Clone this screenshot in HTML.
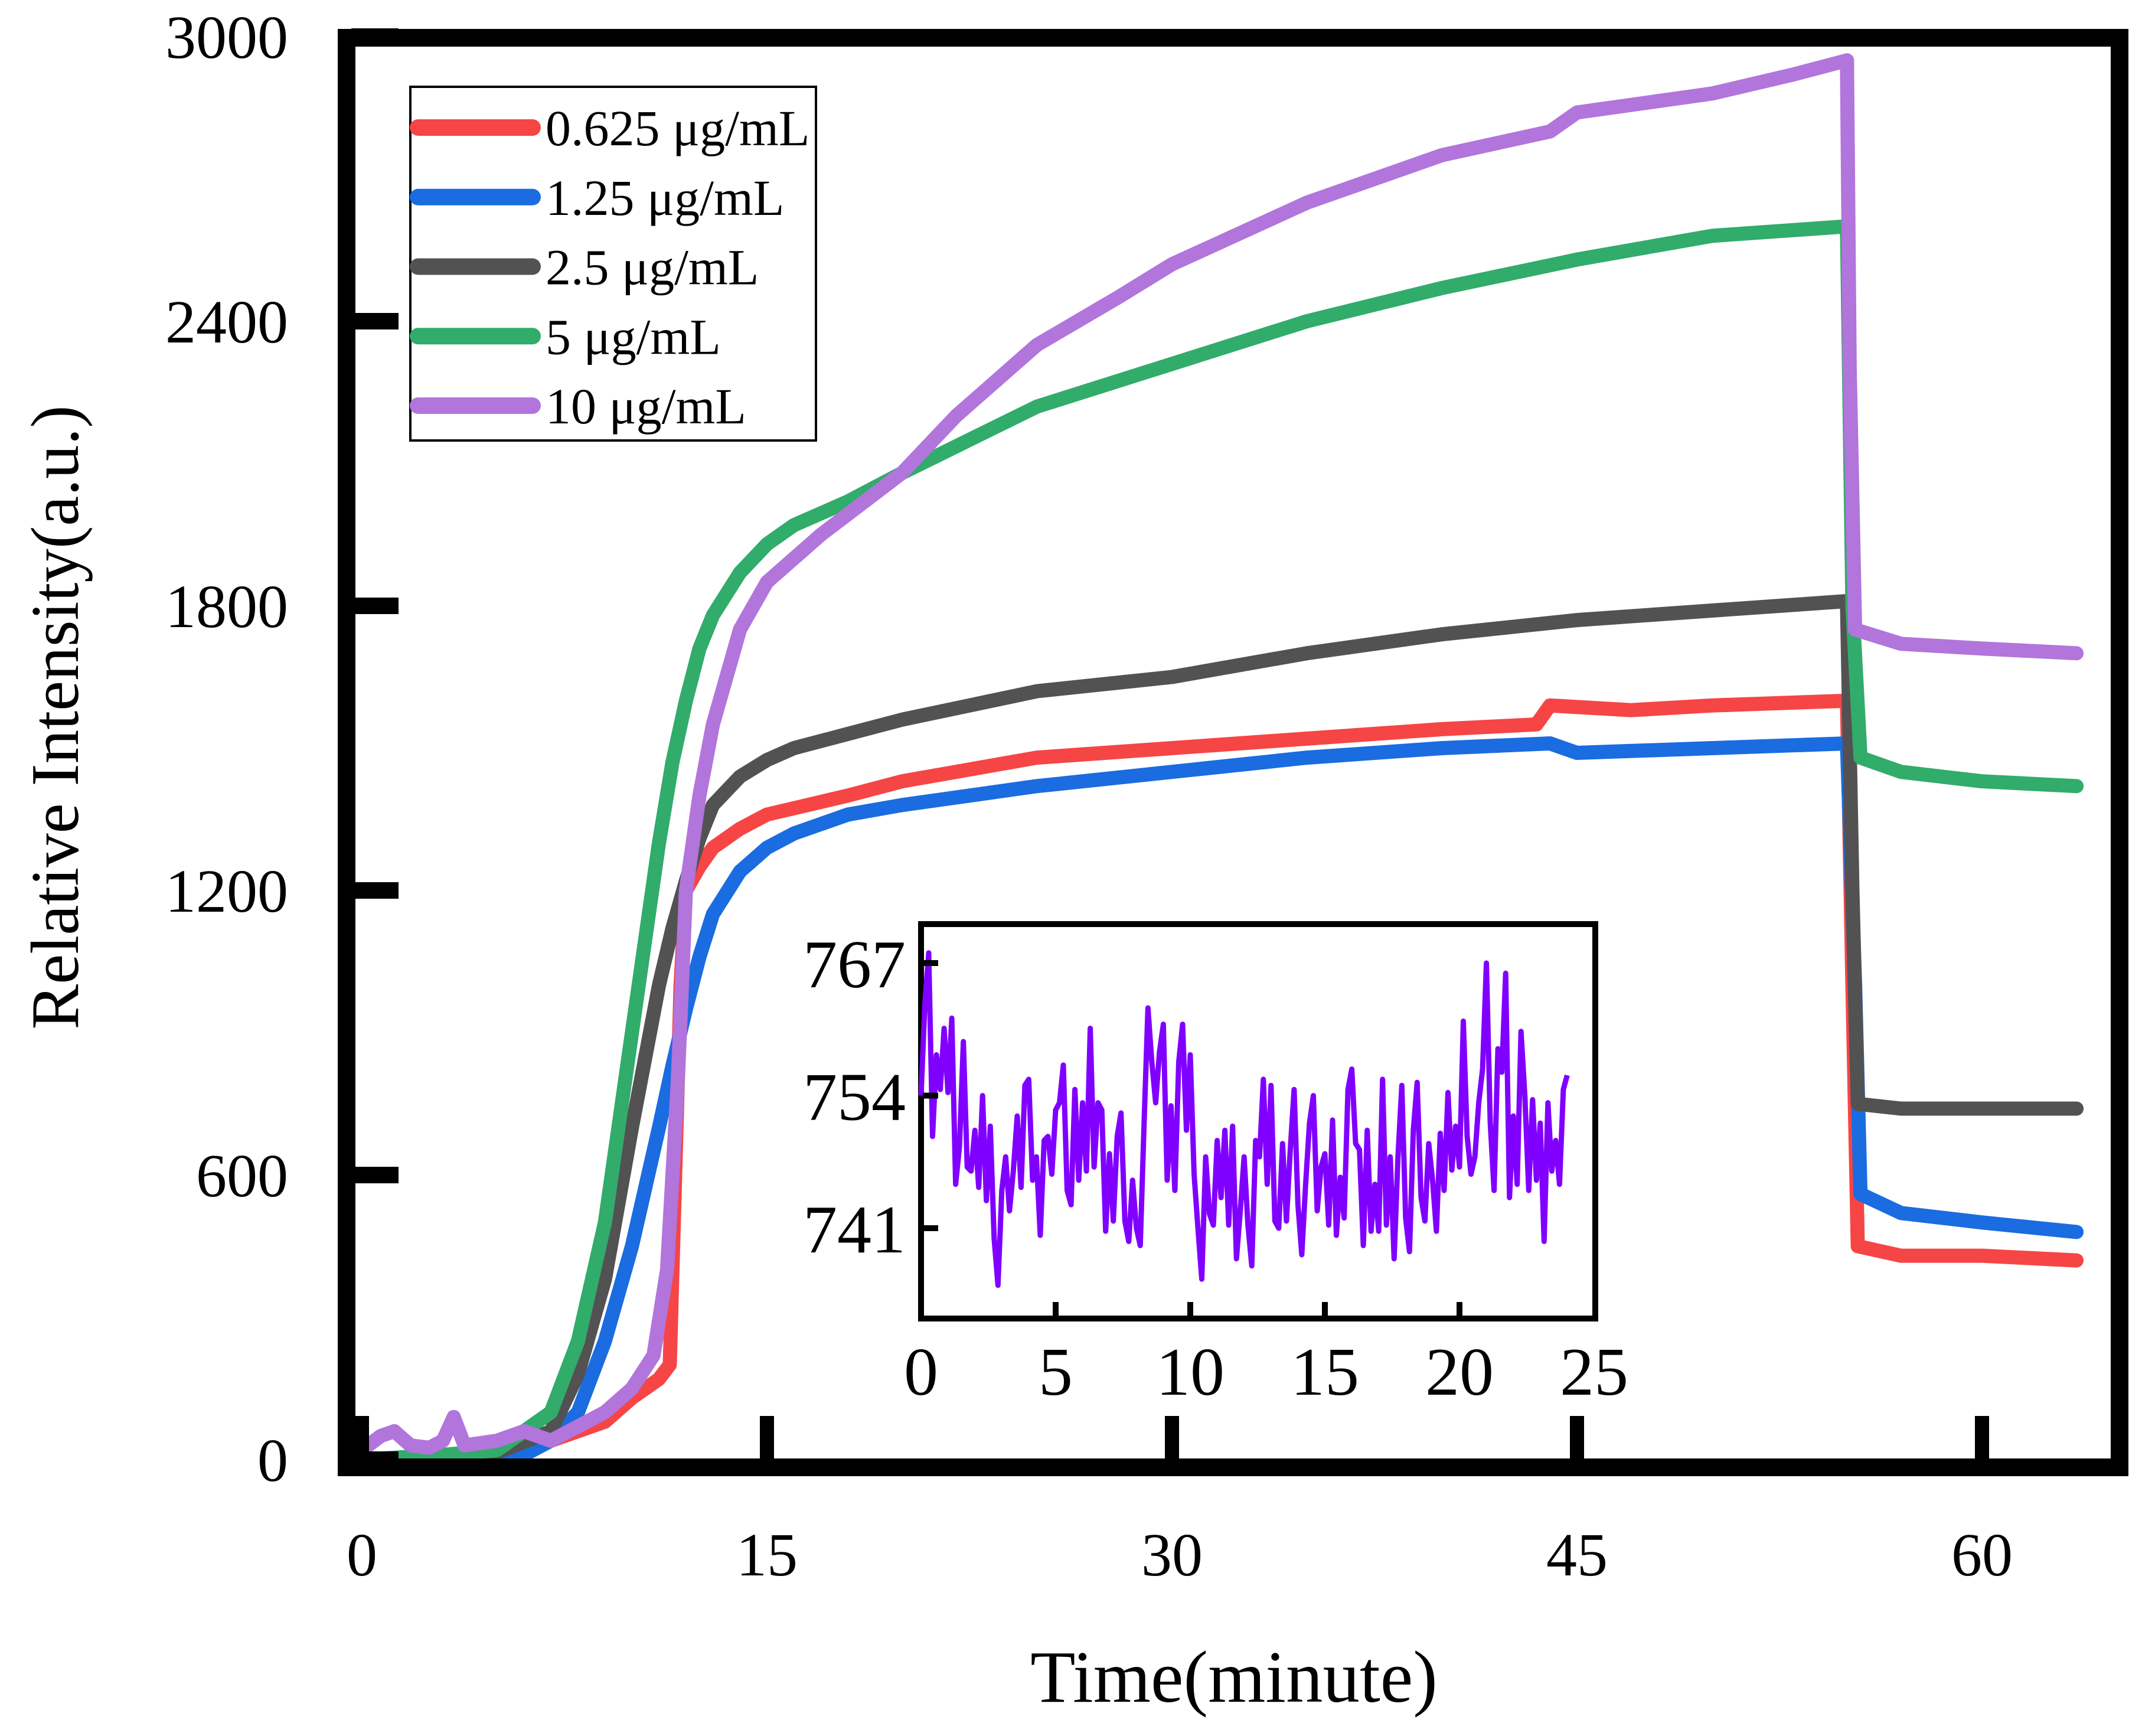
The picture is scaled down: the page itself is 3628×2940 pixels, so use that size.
<!DOCTYPE html>
<html><head><meta charset="utf-8"><style>
html,body{margin:0;padding:0;background:#fff;}
svg{display:block;font-family:"Liberation Serif",serif;}
</style></head><body>
<svg id="chart" width="3628" height="2940" viewBox="0 0 3628 2940" xmlns="http://www.w3.org/2000/svg">
<rect width="3628" height="2940" fill="#fff"/>
<g id="series"></g>
<g id="axes"></g>
<g id="inset"></g>
<g id="legend"></g>
</svg>
<script>
// ---- main chart data ----
const xTicks = [0, 15, 30, 45, 60];
const yTicks = [0, 600, 1200, 1800, 2400, 3000];
const seriesNames = ["0.625 μg/mL", "1.25 μg/mL", "2.5 μg/mL", "5 μg/mL", "10 μg/mL"];
const seriesColors = ["#f64545", "#1a6ce0", "#525252", "#31ac6a", "#b175dc"];
const redT = [0,2,5,7,9,10,11,11.4,11.6,11.8,12,12.5,13,14,15,18,20,25,30,35,40,43.5,44,47,50,55,55.2,55.4,57,60,63.5];
const redV = [0,5,20,40,80,130,170,200,600,1000,1200,1250,1290,1330,1360,1400,1430,1480,1500,1520,1540,1550,1590,1580,1590,1600,1000,450,430,430,420];
const blueT = [0,3,6,7,8,9,10,11,11.5,12,12.5,13,14,15,16,18,20,25,30,35,40,44,45,50,55,55.3,55.5,57,60,63.5];
const blueV = [-10,-10,10,40,100,250,450,700,830,950,1060,1150,1240,1290,1320,1360,1380,1420,1450,1480,1500,1510,1490,1500,1510,1000,560,520,500,480];
const grayT = [0,3,5,7,8,9,10,11,11.5,12,12.5,13,14,15,16,18,20,25,30,35,40,45,50,55,55.2,55.4,57,60,63.5];
const grayV = [0,10,15,60,180,380,700,1000,1120,1220,1310,1380,1440,1475,1500,1530,1560,1620,1650,1700,1740,1770,1790,1810,1200,750,740,740,740];
const greenT = [0,3,5,7,8,9,10,11,11.5,12,12.5,13,14,15,16,18,20,25,30,35,40,45,50,55,55.2,55.5,57,60,63.5];
const greenV = [0,10,20,100,250,500,900,1300,1470,1600,1710,1780,1870,1930,1970,2020,2080,2220,2310,2400,2470,2530,2580,2600,1800,1480,1450,1430,1420];
const purpleT = [0,0.7,1.2,1.8,2.5,3,3.4,3.8,5,6,7,8,9,10,10.8,11.3,11.7,12,12.5,13,14,15,17,20,22,25,28,30,35,40,44,45,50,53,55,55.1,55.3,57,60,63.5];
const purpleV = [20,50,60,30,25,40,90,30,40,60,40,70,100,150,220,400,800,1200,1400,1550,1750,1850,1950,2080,2200,2350,2450,2520,2650,2750,2800,2840,2880,2920,2950,2300,1750,1720,1710,1700];
// ---- inset data ----
const insetXTicks = [0,5,10,15,20,25];
const insetYTicks = [741,754,767];
const insetV = [754,763,768,750,758,754.6,760.6,754.3,761.6,745.3,749,759.3,747,746.6,750.6,745,754,743.7,751,740,735.4,744.7,748,742.7,746.6,752,745,755,755.6,745.7,748,740.3,749.6,750,746.3,752.6,753.3,757,744.7,743.3,754.6,745.7,753.3,746.6,760.6,747,753.3,752.6,740.7,748.3,741.7,750,752.3,741.7,739.7,745.7,741,739.3,751.3,762.6,757.3,753.3,758.3,761,745.7,753,744.7,757.3,761,750.6,758,746.3,741,736,748,742.4,741.3,749.6,744,750.6,741.3,751,738,742.7,748,741.3,737.3,749.6,748,755.6,745.3,755,741.7,741,749.3,741.7,748.7,754.6,743.3,738.4,745.3,751.3,754,742.7,747,748.3,741.3,751.6,740.3,746,742,754.6,756.6,749.3,748.7,739.3,750.6,740.7,745.3,740.7,755.6,741.3,748,738,748,755,742,738.7,750.6,755.3,744,741.7,749.3,745.7,740.7,750.3,744.7,754.3,746.7,751,747,761.3,750,746.3,748,753.3,756.6,767,751.3,744.7,758.6,756.3,766,744,752,745.3,760.3,754,744.7,753.6,745.7,751.3,739.7,753.3,746.6,749.6,745.3,754.6,756];
const insetTEnd = 24;

const NS = "http://www.w3.org/2000/svg";
function mk(tag, attrs, parent){const e=document.createElementNS(NS,tag);for(const k in attrs)e.setAttribute(k,attrs[k]);parent.appendChild(e);return e;}
const X = t => 613 + (t/15)*686;
const Y = v => 2472 - (v/600)*482;
const gS = document.getElementById('series'), gA = document.getElementById('axes'), gI = document.getElementById('inset'), gL = document.getElementById('legend');

const allT = [redT, blueT, grayT, greenT, purpleT];
const allV = [redV, blueV, grayV, greenV, purpleV];
const ids = ["red","blue","gray","green","purple"];
for (let s=0; s<5; s++){
  const pts = allT[s].map((t,i)=>X(t).toFixed(1)+","+Y(allV[s][i]).toFixed(1)).join(" ");
  const pl = mk('polyline',{points:pts,fill:'none',stroke:seriesColors[s],'stroke-width':24,'stroke-linejoin':'round','stroke-linecap':'round'},gS);
  
  
}

// frame
const fr = mk('rect',{x:587,y:64,width:3003,height:2421,fill:'none',stroke:'#000','stroke-width':30},gA);


xTicks.forEach(t=>{
  const l = mk('rect',{x:X(t)-12,y:2398,width:24,height:80,fill:'#000'},gA);
  
  
  const tx = mk('text',{x:X(t),y:2668,'font-size':104,'text-anchor':'middle'},gA);
  tx.textContent = t;
  
  
});
yTicks.forEach(v=>{
  const l = mk('rect',{x:595,y:Y(v)-14,width:80,height:28,fill:'#000'},gA);
  
  
  const tx = mk('text',{x:488,y:Y(v)+36,'font-size':104,'text-anchor':'end'},gA);
  tx.textContent = v;
  
  
});
const xt = mk('text',{x:2090,y:2882,'font-size':125,'text-anchor':'middle'},gA);
xt.textContent = "Time(minute)";


const yt = mk('text',{x:0,y:0,'font-size':115,'text-anchor':'middle',transform:'translate(132,1215) rotate(-90)'},gA);
yt.textContent = "Relative Intensity(a.u.)";



// legend
const lb = mk('rect',{x:695,y:147,width:687,height:599,fill:'#fff',stroke:'#000','stroke-width':4},gL);


seriesNames.forEach((n,i)=>{
  const cy = 216 + i*117.75;
  const ln = mk('line',{x1:708,y1:cy,x2:902,y2:cy,stroke:seriesColors[i],'stroke-width':28,'stroke-linecap':'round'},gL);
  
  
  const tx = mk('text',{x:924,y:cy+30,'font-size':86},gL);
  tx.textContent = n;
  
  
});

// inset
const IX = t => 1560 + t*(1788-1560)/5;
const IY = v => 2080 - (v-741)*(2080-1631)/26;
const ib = mk('rect',{x:1560,y:1565,width:1142,height:668,fill:'#fff',stroke:'#000','stroke-width':10},gI);


const ipts = insetV.map((v,i)=>IX(i*insetTEnd/(insetV.length-1)).toFixed(1)+","+IY(v).toFixed(1)).join(" ");
const ipl = mk('polyline',{points:ipts,fill:'none',stroke:'#8000ff','stroke-width':9,'stroke-linejoin':'round'},gI);


insetXTicks.forEach(t=>{
  if(t>0 && t<25){
    const l = mk('rect',{x:IX(t)-5,y:2205,width:10,height:26,fill:'#000'},gI);
    
    
  }
  const tx = mk('text',{x:IX(t),y:2362,'font-size':116,'text-anchor':'middle'},gI);
  tx.textContent = t;
  
  
});
insetYTicks.forEach(v=>{
  const l = mk('rect',{x:1563,y:IY(v)-5,width:26,height:10,fill:'#000'},gI);
  
  
  const tx = mk('text',{x:1534,y:IY(v)+41,'font-size':116,'text-anchor':'end'},gI);
  tx.textContent = v;
  
  
});
</script>
</body></html>
